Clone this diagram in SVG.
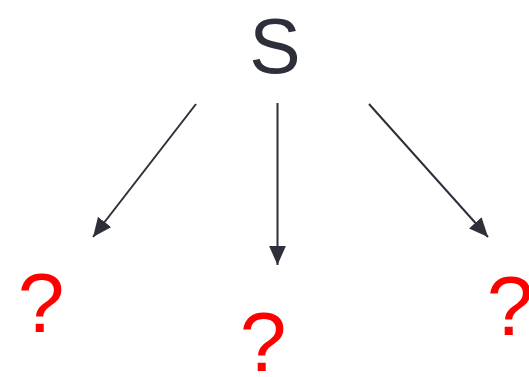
<svg xmlns="http://www.w3.org/2000/svg" width="529" height="377" viewBox="0 0 529 377">
<style>
.lbl{font-family:"Liberation Sans",Arial,sans-serif;text-anchor:middle}
.s{fill:#2d2f3a;font-size:77px}
.q{fill:#ff0000;font-size:84px}
.edge{stroke:#2d2f3a;stroke-width:2;fill:none}
</style>
<defs>
<marker id="ah" markerUnits="userSpaceOnUse" markerWidth="19" markerHeight="17" refX="17" refY="7.5" orient="auto" viewBox="0 0 17 15">
<path d="M0,0 L17,7.5 L0,15 Z" fill="#2d2f3a"/>
</marker>
</defs>
<rect width="529" height="377" fill="#ffffff"/>
<g id="node-s"><text class="lbl s" x="275" y="73">S</text></g>
<g id="node-q1"><text class="lbl q" x="41" y="332">?</text></g>
<g id="node-q2"><text class="lbl q" x="263" y="371">?</text></g>
<g id="node-q3"><text class="lbl q" x="510" y="335">?</text></g>
<g id="connectors">
<line class="edge" x1="196" y1="104" x2="93" y2="237" marker-end="url(#ah)"/>
<line class="edge" x1="277.5" y1="103" x2="277.5" y2="265" marker-end="url(#ah)"/>
<line class="edge" x1="369" y1="104" x2="488" y2="237" marker-end="url(#ah)"/>
</g>
</svg>
